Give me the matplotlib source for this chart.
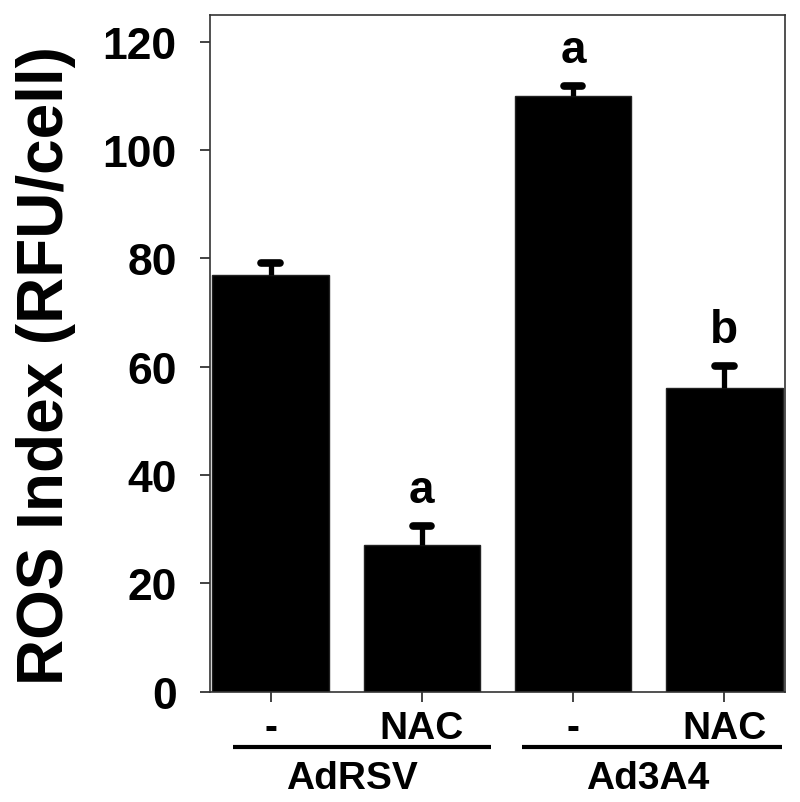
import matplotlib.pyplot as plt

plt.rcParams['font.family'] = ['Liberation Sans', 'DejaVu Sans']
plt.rcParams['font.weight'] = 'bold'

tick_labels = ['-', 'NAC', '-', 'NAC']
groups = ['AdRSV', 'Ad3A4']
ros = [77, 27, 110, 56]
err = [2.1, 3.5, 1.8, 4.2]
letters = ['', 'a', 'a', 'b']

x = list(range(len(ros)))

fig = plt.figure(figsize=(8, 8.03), dpi=100)
ax = fig.add_axes([0.2625, 0.1374, 0.71875, 0.843])

ax.bar(x, ros, width=0.77, color='black', edgecolor='#222222', linewidth=1, zorder=2)
ax.vlines(x, ros, [v + e for v, e in zip(ros, err)], color='black', linewidth=3.8, zorder=3)
caps = ax.hlines([v + e for v, e in zip(ros, err)], [i - 0.06 for i in x], [i + 0.06 for i in x],
                 color='black', linewidth=5.5, zorder=3)
caps.set_capstyle('round')

for i, (v, e, t) in enumerate(zip(ros, err, letters)):
    if t:
        ax.text(i, v + e + 2.6, t, ha='center', va='bottom', fontsize=33, fontweight='bold')

ax.set_xlim(-0.4, 3.4)
ax.set_ylim(0, 125)
ax.set_yticks([0, 20, 40, 60, 80, 100, 120])
ax.set_xticks(x)
ax.set_xticklabels(tick_labels)
ax.tick_params(axis='y', labelsize=32, length=7, width=1.2, pad=17, colors='#222222', labelcolor='black')
ax.tick_params(axis='x', labelsize=28, length=7, width=1.2, pad=6, colors='#222222', labelcolor='black')
for s in ax.spines.values():
    s.set_linewidth(1.2)
    s.set_color('#333333')

fig.text(0.057, 0.545, 'ROS Index (RFU/cell)', rotation=90, ha='center', va='center',
         fontsize=46, fontweight='bold')

# group lines and labels under the tick labels
trans = ax.get_xaxis_transform()
spans = [(-0.25, 1.46), (1.66, 3.38)]
centers = [0.54, 2.49]
for (a, b), c, g in zip(spans, centers, groups):
    ax.plot([a, b], [-0.0817, -0.0817], transform=trans, color='black', linewidth=3,
            clip_on=False, solid_capstyle='butt')
    ax.text(c, -0.127, g, transform=trans, ha='center', va='center', fontsize=28, fontweight='bold')

fig.savefig('out.png', dpi=100)
